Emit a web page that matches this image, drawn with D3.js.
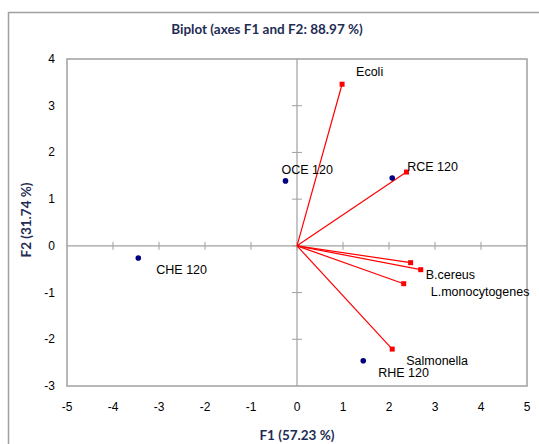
<!DOCTYPE html>
<html>
<head>
<meta charset="utf-8">
<script src="https://cdn.jsdelivr.net/npm/d3@7"></script>
<style>
body { margin:0; background:#fff; }
svg text { font-family: "Liberation Sans", Arial, sans-serif; }
svg text.ttl { font-family: Lato, "Open Sans", sans-serif; }
</style>
</head>
<body>
<svg width="539" height="444"></svg>
<script>
// observations (blue dots)
var obsNames = ["OCE 120", "RCE 120", "CHE 120", "RHE 120"];
var obsF1 = [-0.25, 2.07, -3.45, 1.44];
var obsF2 = [1.39, 1.45, -0.26, -2.46];

// variables (red vectors)
var varNames = ["Ecoli", "", "", "B.cereus", "L.monocytogenes", "Salmonella"];
var varF1 = [0.98, 2.38, 2.47, 2.69, 2.32, 2.07];
var varF2 = [3.46, 1.58, -0.36, -0.51, -0.81, -2.21];
// label offsets in px (dx, dy)
var varLabelPos = [[14,-12],[0,0],[0,0],[5,5],[27,8],[14,12]];
var obsLabelPos = [[-4,-11],[15,-11],[18,12],[15,12]];

var xTicks = [-5,-4,-3,-2,-1,0,1,2,3,4,5];
var yTicks = [-3,-2,-1,0,1,2,3,4];

var svg = d3.select("svg");

// outer chart border
svg.append("rect").attr("x",8.5).attr("y",12.5).attr("width",600).attr("height",500)
    .attr("fill","none").attr("stroke","#a0a0a0").attr("stroke-width",1.5);

var x = d3.scaleLinear().domain([-5,5]).range([67,527]);
var y = d3.scaleLinear().domain([-3,4]).range([386,59]);

// plot frame
svg.append("rect").attr("x",x(-5)).attr("y",y(4))
    .attr("width",x(5)-x(-5)).attr("height",y(-3)-y(4))
    .attr("fill","none").attr("stroke","#a0a0a0").attr("stroke-width",1.5);

// zero lines
svg.append("line").attr("x1",x(-5)).attr("x2",x(5)).attr("y1",y(0)).attr("y2",y(0))
    .attr("stroke","#a0a0a0").attr("stroke-width",1.2);
svg.append("line").attr("x1",x(0)).attr("x2",x(0)).attr("y1",y(4)).attr("y2",y(-3))
    .attr("stroke","#a0a0a0").attr("stroke-width",1.2);

// tick marks on zero lines
svg.selectAll(".xt").data(xTicks.filter(d => d>-5 && d<5)).enter().append("line")
    .attr("x1",d=>x(d)).attr("x2",d=>x(d)).attr("y1",y(0)-4).attr("y2",y(0)+4)
    .attr("stroke","#a0a0a0");
svg.selectAll(".yt").data(yTicks.filter(d => d>-3 && d<4)).enter().append("line")
    .attr("x1",x(0)-5).attr("x2",x(0)+5).attr("y1",d=>y(d)).attr("y2",d=>y(d))
    .attr("stroke","#a0a0a0");

// tick labels
svg.selectAll(".xl").data(xTicks).enter().append("text")
    .attr("x",d=>x(d)).attr("y",411).attr("text-anchor","middle")
    .attr("font-size",12).attr("fill","#000").text(d=>d);
svg.selectAll(".yl").data(yTicks).enter().append("text")
    .attr("x",55).attr("y",d=>y(d)+4).attr("text-anchor","end")
    .attr("font-size",12).attr("fill","#000").text(d=>d);

// titles
svg.append("text").attr("class","ttl").attr("x",267).attr("y",34).attr("text-anchor","middle")
    .attr("font-size",13.5).attr("font-weight","bold").attr("fill","#1f2d55")
    .text("Biplot (axes F1 and F2: 88.97 %)");
svg.append("text").attr("class","ttl").attr("x",297).attr("y",440).attr("text-anchor","middle")
    .attr("font-size",13.5).attr("font-weight","bold").attr("fill","#1f2d55")
    .text("F1 (57.23 %)");
svg.append("text").attr("class","ttl").attr("transform","translate(31,220) rotate(-90)").attr("text-anchor","middle")
    .attr("font-size",13.5).attr("font-weight","bold").attr("fill","#1f2d55")
    .text("F2 (31.74 %)");

// vectors
var vars = varNames.map((n,i) => ({name:n, f1:varF1[i], f2:varF2[i], pos:varLabelPos[i]}));
svg.selectAll(".vec").data(vars).enter().append("line")
    .attr("x1",x(0)).attr("y1",y(0)).attr("x2",d=>x(d.f1)).attr("y2",d=>y(d.f2))
    .attr("stroke","#ff0000").attr("stroke-width",1.2);
svg.selectAll(".vend").data(vars).enter().append("rect")
    .attr("x",d=>x(d.f1)-2.5).attr("y",d=>y(d.f2)-2.5).attr("width",5).attr("height",5)
    .attr("fill","#ff0000");
svg.selectAll(".vlab").data(vars).enter().append("text")
    .attr("x",d=>x(d.f1)+d.pos[0]).attr("y",d=>y(d.f2)+d.pos[1]+4)
    .attr("font-size",12.5).attr("fill","#000").text(d=>d.name);

// observations
var obs = obsNames.map((n,i) => ({name:n, f1:obsF1[i], f2:obsF2[i], pos:obsLabelPos[i]}));
svg.selectAll(".obs").data(obs).enter().append("circle")
    .attr("cx",d=>x(d.f1)).attr("cy",d=>y(d.f2)).attr("r",2.8).attr("fill","#000080");
svg.selectAll(".olab").data(obs).enter().append("text")
    .attr("x",d=>x(d.f1)+d.pos[0]).attr("y",d=>y(d.f2)+d.pos[1]+4)
    .attr("font-size",12.5).attr("fill","#000").text(d=>d.name);
</script>
</body>
</html>
